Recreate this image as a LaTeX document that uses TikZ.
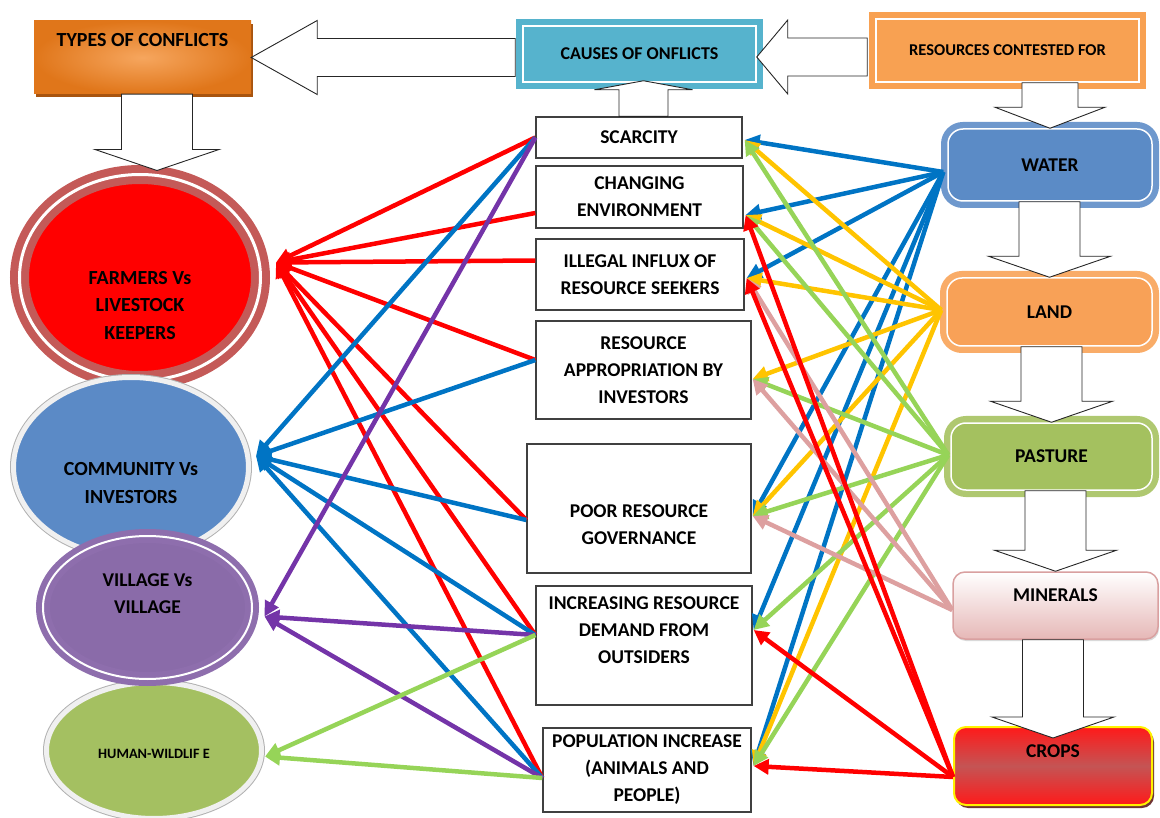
\documentclass[tikz,border=0pt]{standalone}
\usepackage{fontspec}
\setmainfont{Carlito}
\usetikzlibrary{arrows.meta,calc,shapes.geometric,shadows}

\definecolor{typesin}{HTML}{F6A65E}
\definecolor{typesout}{HTML}{E0761A}
\definecolor{typesdark}{HTML}{A8540F}
\definecolor{causeC}{HTML}{56B3CD}
\definecolor{resC}{HTML}{F8A152}
\definecolor{waterC}{HTML}{5B8BC6}
\definecolor{waterring}{HTML}{6E98CD}
\definecolor{landC}{HTML}{F8A157}
\definecolor{landring}{HTML}{F9AC68}
\definecolor{pastC}{HTML}{A4C15F}
\definecolor{pastring}{HTML}{AFC870}
\definecolor{mineC}{HTML}{E6B8B7}
\definecolor{mineline}{HTML}{D9A0A0}
\definecolor{cropsred}{HTML}{FF1A1A}
\definecolor{cropsmid}{HTML}{C45454}
\definecolor{farmC}{HTML}{FF0000}
\definecolor{farmring}{HTML}{C45A58}
\definecolor{commC}{HTML}{5B8AC6}
\definecolor{villC}{HTML}{8A6BA9}
\definecolor{villring}{HTML}{8E6EAD}
\definecolor{wildC}{HTML}{A4C061}
\definecolor{redln}{HTML}{FF0000}
\definecolor{blueln}{HTML}{0074C4}
\definecolor{purpleln}{HTML}{7434A8}
\definecolor{greenln}{HTML}{96D458}
\definecolor{goldln}{HTML}{FFC400}
\definecolor{pinkln}{HTML}{DDA0A0}

% hollow block arrows: from, to (tip), half shaft, half head
\newcommand{\blockdown}[4]{%
  \draw[blockarrow] let \p1=(#1), \p2=(#2) in
    (\x2-#3pt,\y1) -- (\x2-#3pt,\y2+21pt) -- (\x2-#4pt,\y2+21pt) -- (\x2,\y2)
    -- (\x2+#4pt,\y2+21pt) -- (\x2+#3pt,\y2+21pt) -- (\x2+#3pt,\y1) -- cycle;}
\newcommand{\blockup}[2]{%
  \draw[blockarrow] let \p1=(#1), \p2=(#2) in
    (\x2-24.5pt,\y1) -- (\x2-24.5pt,\y2-9pt) -- (\x2-49pt,\y2-9pt) -- (\x2,\y2)
    -- (\x2+49pt,\y2-9pt) -- (\x2+24.5pt,\y2-9pt) -- (\x2+24.5pt,\y1) -- cycle;}
\newcommand{\blockleft}[3]{%
  \draw[blockarrow] let \p1=(#1), \p2=(#2) in
    (\x1,\y2+19pt) -- (\x2+#3pt,\y2+19pt) -- (\x2+#3pt,\y2+37pt) -- (\x2,\y2)
    -- (\x2+#3pt,\y2-37pt) -- (\x2+#3pt,\y2-19pt) -- (\x1,\y2-19pt) -- cycle;}

\begin{document}
\begin{tikzpicture}[x=1pt, y=-1pt,
  txt/.style={font=\fontsize{19.5}{27}\selectfont\bfseries, align=center, inner sep=0pt},
  cause/.style={txt, rectangle, draw=black!75, fill=white, line width=1.3pt},
  framed/.style={preaction={draw=#1, line width=14pt}, draw=white, line width=1.5pt},
  res/.style={txt, rectangle, rounded corners=15pt},
  oval/.style={txt, ellipse},
  link/.style={line width=4.5pt, -{Triangle[length=15pt,width=15pt]}},
  blockarrow/.style={draw=black!85, fill=white, line width=0.9pt, line join=miter}]
\useasboundingbox (0,0) rectangle (1160,818);
\clip (0,0) rectangle (1160,818);

% headings
\node[txt, minimum width=217, minimum height=73, inner color=typesin, outer color=typesout,
  drop shadow={shadow xshift=2pt, shadow yshift=-3pt, fill=typesdark, opacity=1},
  label={[txt, font=\fontsize{20}{24}\selectfont\bfseries, yshift=17.5pt]center:TYPES OF CONFLICTS}] (types) at (142.5,57.5) {};
\node[txt, font=\fontsize{18}{21}\selectfont\bfseries, framed=causeC, fill=causeC,
  minimum width=233, minimum height=56] (cause) at (639.5,54) {CAUSES OF ONFLICTS};
\node[txt, font=\fontsize{16.5}{19}\selectfont\bfseries, framed=resC, fill=resC,
  minimum width=263, minimum height=63] (res) at (1007.5,50.5) {RESOURCES CONTESTED FOR};

% causes
\node[cause, minimum width=206, minimum height=41] (scar) at (639,137.5) {SCARCITY};
\node[cause, minimum width=207, minimum height=62] (chg) at (639.5,197) {CHANGING\\ENVIRONMENT};
\node[cause, minimum width=208, minimum height=71] (ill) at (640,274.5) {ILLEGAL INFLUX OF\\RESOURCE SEEKERS};
\node[cause, minimum width=215, minimum height=98] (appr) at (643.5,370) {RESOURCE\\APPROPRIATION BY\\INVESTORS};
\node[cause, minimum width=224, minimum height=129,
  label={[txt, yshift=-16pt]center:{POOR RESOURCE\\GOVERNANCE}}] (gov) at (639,508.5) {};
\node[cause, minimum width=216, minimum height=119,
  label={[txt, yshift=15pt]center:{INCREASING RESOURCE\\DEMAND FROM\\OUTSIDERS}}] (dem) at (644,645.5) {};
\node[cause, minimum width=208, minimum height=84] (pop) at (647,770) {POPULATION INCREASE\\(ANIMALS AND\\PEOPLE)};

% resources
\node[res, framed=waterring, fill=waterC, minimum width=204, minimum height=72] (water) at (1050,165) {WATER};
\node[res, framed=landring, fill=landC, minimum width=205, minimum height=68] (land) at (1049.5,312) {LAND};
\node[res, framed=pastring, fill=pastC, minimum width=201, minimum height=67] (past) at (1051.5,456.5) {PASTURE};
\node[res, rounded corners=12pt, draw=mineline, line width=1.5pt, top color=white, bottom color=mineC,
  drop shadow={shadow xshift=1pt, shadow yshift=-2pt, opacity=0.3},
  minimum width=205, minimum height=67,
  label={[txt, yshift=10.5pt]center:MINERALS}] (mine) at (1055.5,605.5) {};
\node[res, rounded corners=12pt, draw=yellow, line width=2pt, top color=cropsred, bottom color=cropsred,
  middle color=cropsmid,
  drop shadow={shadow xshift=2pt, shadow yshift=-3pt, fill=black!70!red, opacity=0.8},
  minimum width=198, minimum height=78,
  label={[txt, yshift=15pt]center:CROPS}] (crops) at (1053,766) {};

% types of conflicts
\node[oval, minimum width=241, minimum height=206, fill=farmC, draw=farmring, double=white,
  double distance=3pt, line width=8pt,
  label={[txt, font=\fontsize{20}{27.5}\selectfont\bfseries, yshift=-28pt]center:{FARMERS Vs\\LIVESTOCK\\KEEPERS}}] (farm) at (140,277.5) {};
\node[oval, minimum width=235, minimum height=179, fill=commC, draw=black!6, line width=5pt,
  preaction={draw=black!30, line width=7pt},
  label={[txt, font=\fontsize{20}{28}\selectfont\bfseries, yshift=-16.5pt]center:{COMMUNITY Vs\\INVESTORS}}] (comm) at (131,467) {};
\node[oval, minimum width=215, minimum height=136, fill=wildC, draw=black!6, line width=5pt,
  preaction={draw=black!30, line width=7pt},
  label={[txt, font=\fontsize{14.3}{17}\selectfont\bfseries, yshift=-3pt]center:HUMAN-WILDLIF E}] (wild) at (154,750.5) {};
\node[oval, minimum width=209, minimum height=143, fill=villC, draw=villring, double=white,
  double distance=2pt, line width=6pt,
  label={[txt, yshift=13.5pt]center:{VILLAGE Vs\\VILLAGE}}] (vill) at (147.5,607.5) {};

% ports
\coordinate (scar-l) at (scar.west);
\coordinate (chg-l) at ([yshift=-16pt]chg.west);
\coordinate (ill-l) at ([yshift=14pt]ill.west);
\coordinate (appr-l) at ([yshift=10pt]appr.west);
\coordinate (gov-l) at ([yshift=-11.5pt]gov.west);
\coordinate (dem-l) at ([yshift=10.5pt]dem.west);
\coordinate (pop-l) at ([yshift=-8pt]pop.west);
\coordinate (scar-r) at ([xshift=2pt,yshift=-2.5pt]scar.east);
\coordinate (chg-r) at ([xshift=2pt,yshift=-18pt]chg.east);
\coordinate (ill-r) at ([xshift=2pt,yshift=-3.5pt]ill.east);
\coordinate (appr-r) at ([xshift=1pt,yshift=-9pt]appr.east);
\coordinate (gov-r) at ([xshift=1pt,yshift=-7.5pt]gov.east);
\coordinate (dem-r) at ([xshift=1pt,yshift=15.5pt]dem.east);
\coordinate (pop-r) at ([xshift=2pt,yshift=4pt]pop.east);
\coordinate (farm-in) at ([xshift=11.5pt,yshift=15pt]farm.east);
\coordinate (comm-in) at ([xshift=5pt,yshift=11pt]comm.east);
\coordinate (vill-in) at ([xshift=9.5pt,yshift=-9pt]vill.east);
\coordinate (wild-in) at ([xshift=1pt,yshift=-6pt]wild.east);
\coordinate (water-o) at ([xshift=-4pt,yshift=-7pt]water.west);
\coordinate (land-o) at ([xshift=-5pt,yshift=2pt]land.west);
\coordinate (past-o) at ([xshift=-2pt,yshift=1.5pt]past.west);
\coordinate (mine-o) at ([yshift=-4.5pt]mine.west);
\coordinate (crops-o) at ([yshift=-11pt]crops.west);

% causes -> types
\foreach \p in {scar-l,chg-l,ill-l,appr-l,gov-l,dem-l,pop-l}
  \draw[link, redln] (\p) -- (farm-in);
\foreach \p in {scar-l,appr-l,gov-l,dem-l,pop-l}
  \draw[link, blueln] (\p) -- (comm-in);
\foreach \p in {scar-l,dem-l,pop-l}
  \draw[link, purpleln] (\p) -- (vill-in);
\foreach \p in {dem-l,pop-l}
  \draw[link, greenln] (\p) -- (wild-in);

% resources -> causes
\foreach \p in {scar-r,chg-r,ill-r,gov-r,dem-r,pop-r}
  \draw[link, blueln] (water-o) -- (\p);
\foreach \p in {scar-r,chg-r,ill-r,appr-r,gov-r,pop-r}
  \draw[link, goldln] (land-o) -- (\p);
\foreach \p in {scar-r,chg-r,appr-r,gov-r,dem-r,pop-r}
  \draw[link, greenln] (past-o) -- (\p);
\foreach \p in {ill-r,appr-r,gov-r}
  \draw[link, pinkln] (mine-o) -- (\p);
\foreach \p in {chg-r,ill-r,dem-r,pop-r}
  \draw[link, redln] (crops-o) -- (\p);

% block arrows
\blockleft{[xshift=-7pt]cause.west}{types.east}{66}
\blockleft{[xshift=-8pt]res.west}{[yshift=-3pt]cause.east}{31}
\blockup{scar.north}{[xshift=4pt,yshift=2pt]cause.south}
\blockdown{types.south}{[xshift=17pt]farm.north}{35.5}{62}
\blockdown{res.south}{water.north}{28}{55}
\blockdown{water.south}{land.north}{30.5}{61}
\blockdown{land.south}{past.north}{30.5}{61}
\blockdown{past.south}{mine.north}{30.5}{61}
\blockdown{mine.south}{[yshift=-12pt]crops.north}{30.5}{61}

\end{tikzpicture}
\end{document}
